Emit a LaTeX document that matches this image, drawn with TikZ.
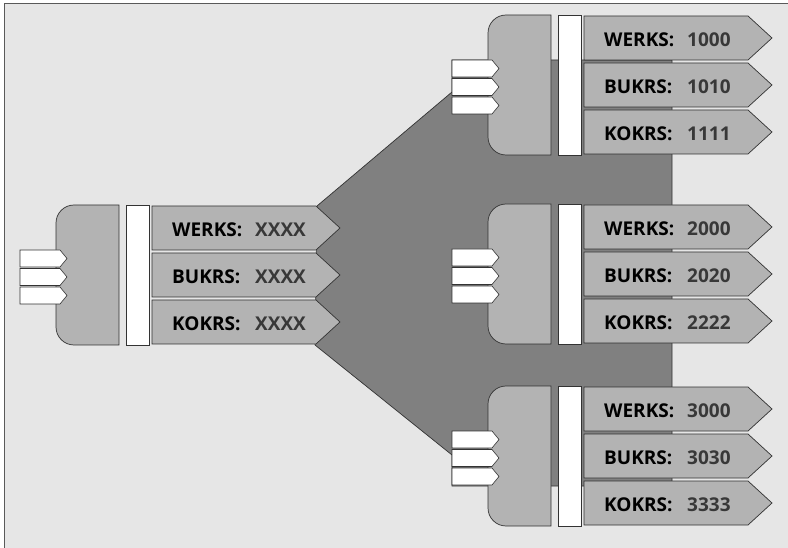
\documentclass[tikz,border=0pt]{standalone}
\usepackage{fontspec}
\setmainfont{Open Sans}
\definecolor{paper}{HTML}{E6E6E6}
\definecolor{flow}{HTML}{808080}
\definecolor{part}{HTML}{B3B3B3}

\begin{document}
\begin{tikzpicture}[x=1pt,y=-1pt,
  edge/.style={draw=black!80,line width=.7pt},
  tag/.style={edge,fill=part},
  pin/.style={edge,fill=white,line width=.6pt},
  lab/.style={anchor=base west,inner sep=0pt,font=\bfseries\fontsize{19}{19}\selectfont},
  val/.style={lab,text=black!78}]
\useasboundingbox (0,0) rectangle (788,548);
% frame, open to the right and at the bottom
\fill[white] (0,0) rectangle (788,548);
\fill[paper] (4,3) rectangle (788,548);
\draw[black!65,line width=.8pt] (4,548) -- (4,3) -- (788,3);
% the shared area behind the three plants
\draw[edge,fill=flow] (317,206) -- (452,92) -- (452,60) -- (672,60) -- (672,486)
  -- (452,486) -- (452,455) -- (315,345) -- cycle;
% source block and the three target blocks: x, y of the rounded part, name, values
\foreach \bx/\by/\nm/\a/\b/\c in {56/205/src/XXXX/XXXX/XXXX,
    488/15/one/1000/1010/1111, 488/204/two/2000/2020/2222, 488/386/three/3000/3030/3333} {
  \draw[edge,fill=part] (\bx+63,\by) -- (\bx+18,\by)
    arc[start angle=270,end angle=180,radius=18] -- (\bx,\by+122)
    arc[start angle=180,end angle=90,radius=18] -- (\bx+63,\by+140) -- cycle;
  \foreach \t in {45,63.5,82}
    \draw[pin] (\bx-36,\by+\t) -- ++(40,0) -- ++(7,8.5) -- ++(-7,8.5) -- ++(-40,0) -- cycle;
  \draw[edge,fill=white] (\bx+70,\by) rectangle (\bx+93,\by+140);
  \foreach \r/\k/\v in {1/WERKS/\a,48/BUKRS/\b,95/KOKRS/\c} {
    \draw[tag] (\bx+96,\by+\r) -- ++(164,0) -- ++(24,22) -- ++(-24,22) -- ++(-164,0) -- cycle;
    \node[lab] (\nm-\k) at (\bx+116,\by+\r+30.5) {\k:};
    \node[val] (\nm-\k-v) at (\bx+199,\by+\r+30.5) {\v};
  }
}
\end{tikzpicture}
\end{document}
